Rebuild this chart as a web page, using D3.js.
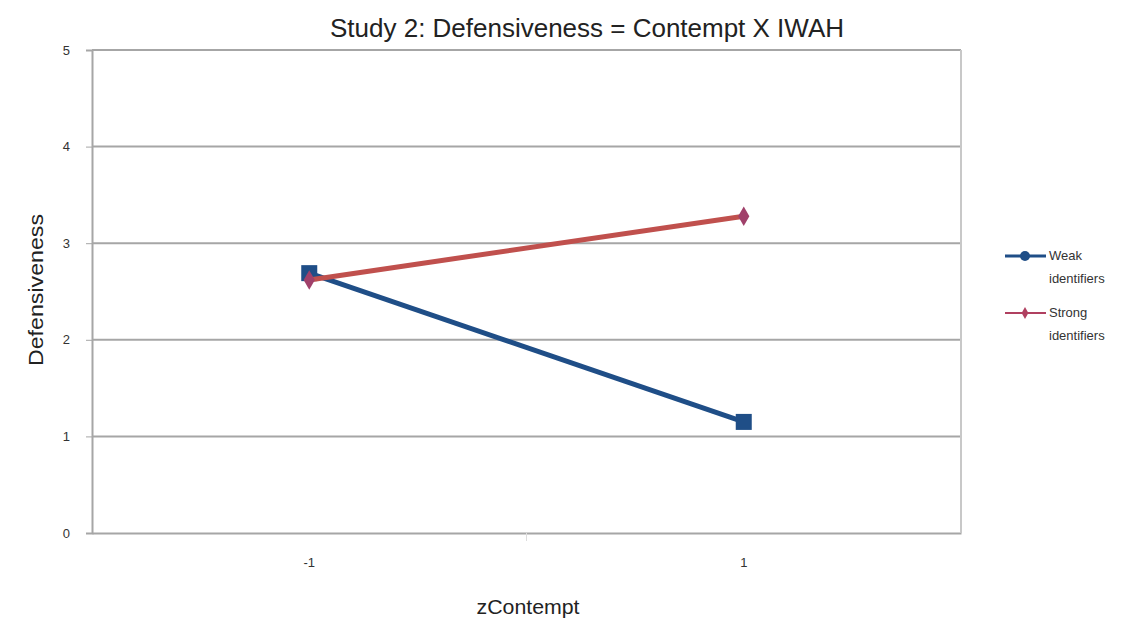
<!DOCTYPE html>
<html><head><meta charset="utf-8">
<script src="https://cdn.jsdelivr.net/npm/d3@7"></script>
<style>body{margin:0;background:#fff}svg{display:block}</style>
</head><body>
<svg id="c" width="1129" height="625"></svg>
<script>
const categories = ["-1", "1"];
const weakValues = [2.69, 1.15];
const strongValues = [2.62, 3.28];
const yTicks = [0, 1, 2, 3, 4, 5];
const seriesNames = ["Weak identifiers", "Strong identifiers"];

const svg = d3.select("#c");
const m = {left: 92, right: 961, top: 50, bottom: 533};
const x = d3.scaleBand().domain(categories).range([m.left, m.right]);
const y = d3.scaleLinear().domain([0, 5]).range([m.bottom, m.top]);
const font = "Liberation Sans, Arial, sans-serif";

// gridlines
svg.append("g").selectAll("line").data(yTicks.filter(d => d > 0)).join("line")
  .attr("x1", m.left).attr("x2", m.right)
  .attr("y1", d => y(d)).attr("y2", d => y(d))
  .attr("stroke", "#a6a6a6").attr("stroke-width", 2);

// y axis
const ya = svg.append("g").attr("transform", `translate(${m.left},0)`)
  .call(d3.axisLeft(y).tickValues(yTicks).tickFormat(d3.format("d")).tickSize(6).tickPadding(16));
ya.select(".domain").attr("stroke", "#a6a6a6").attr("stroke-width", 2);
ya.selectAll(".tick line").attr("stroke", "#a6a6a6").attr("stroke-width", 1);
ya.selectAll("text").attr("font-family", font).attr("font-size", 13).attr("fill", "#333");

// x axis
const xa = svg.append("g").attr("transform", `translate(0,${m.bottom})`)
  .call(d3.axisBottom(x).tickSize(0).tickPadding(25));
xa.select(".domain").attr("stroke", "#a6a6a6").attr("stroke-width", 2);
xa.selectAll("text").attr("font-family", font).attr("font-size", 13).attr("fill", "#333");
// category boundary tick
svg.append("line").attr("x1", m.left + x.bandwidth()).attr("x2", m.left + x.bandwidth())
  .attr("y1", m.bottom).attr("y2", m.bottom + 8).attr("stroke", "#ddd").attr("stroke-width", 1);

// right border
svg.append("line").attr("x1", m.right).attr("x2", m.right).attr("y1", m.top).attr("y2", m.bottom)
  .attr("stroke", "#c8c8c8").attr("stroke-width", 2);

const cx = d => x(d) + x.bandwidth() / 2;
const line = d3.line().x(d => cx(d.c)).y(d => y(d.v));

const weak = categories.map((c, i) => ({c, v: weakValues[i]}));
const strong = categories.map((c, i) => ({c, v: strongValues[i]}));

svg.append("path").datum(weak).attr("d", line).attr("fill", "none")
  .attr("stroke", "#1f4e87").attr("stroke-width", 5);
svg.append("g").selectAll("rect").data(weak).join("rect")
  .attr("x", d => cx(d.c) - 8).attr("y", d => y(d.v) - 8).attr("width", 16).attr("height", 16)
  .attr("fill", "#1f4e87");

svg.append("path").datum(strong).attr("d", line).attr("fill", "none")
  .attr("stroke", "#c0504d").attr("stroke-width", 5);
svg.append("g").selectAll("path.m").data(strong).join("path")
  .attr("transform", d => `translate(${cx(d.c)},${y(d.v)})`)
  .attr("d", d3.symbol(d3.symbolDiamond, 110)).attr("fill", "#a0406a");

// title
svg.append("text").attr("x", 587).attr("y", 37).attr("text-anchor", "middle")
  .attr("font-family", font).attr("font-size", 26).attr("fill", "#222")
  .attr("textLength", 514).attr("lengthAdjust", "spacingAndGlyphs")
  .text("Study 2: Defensiveness = Contempt X IWAH");

// axis titles
svg.append("text").attr("x", 528).attr("y", 614).attr("text-anchor", "middle")
  .attr("font-family", font).attr("font-size", 20).attr("fill", "#222")
  .attr("textLength", 103).attr("lengthAdjust", "spacingAndGlyphs").text("zContempt");
svg.append("text").attr("transform", "translate(43,290) rotate(-90)").attr("text-anchor", "middle")
  .attr("font-family", font).attr("font-size", 20).attr("fill", "#222")
  .attr("textLength", 152).attr("lengthAdjust", "spacingAndGlyphs").text("Defensiveness");

// legend
const lg = svg.append("g");
const legendItems = [
  {name: seriesNames[0], color: "#1f4e87", mk: "circle", y: 256},
  {name: seriesNames[1], color: "#b04060", mk: "diamond", y: 313}
];
legendItems.forEach(it => {
  lg.append("line").attr("x1", 1005).attr("x2", 1046).attr("y1", it.y).attr("y2", it.y)
    .attr("stroke", it.color).attr("stroke-width", it.mk === "circle" ? 3 : 2);
  if (it.mk === "circle") lg.append("circle").attr("cx", 1025).attr("cy", it.y).attr("r", 5).attr("fill", it.color);
  else lg.append("path").attr("transform", `translate(1025,${it.y})`).attr("d", d3.symbol(d3.symbolDiamond, 40)).attr("fill", it.color);
  const words = it.name.split(" ");
  const t = lg.append("text").attr("font-family", font).attr("font-size", 13).attr("fill", "#333");
  t.append("tspan").attr("x", 1049).attr("y", it.y + 4).text(words[0]);
  t.append("tspan").attr("x", 1049).attr("y", it.y + 27).text(words[1]);
});
</script>
</body></html>
